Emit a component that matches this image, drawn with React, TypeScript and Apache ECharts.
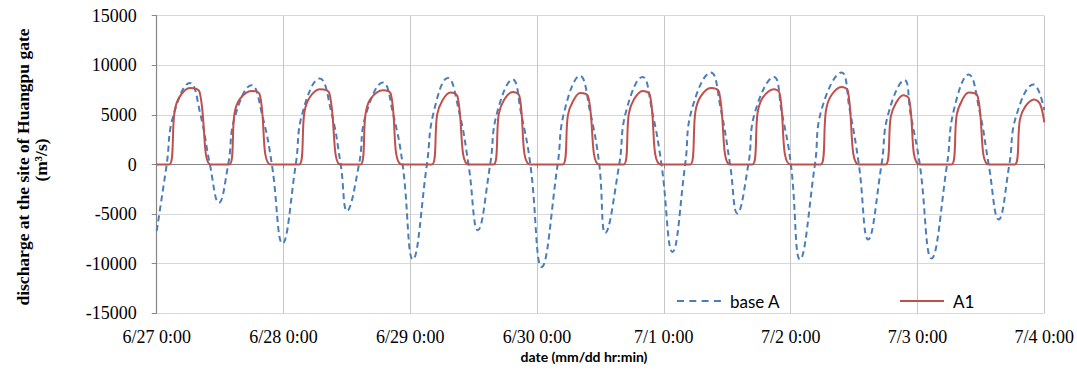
import React, { useEffect, useRef } from "react";
import * as echarts from "echarts";

// x axis in hours since 6/27 0:00
const tickLabels = [
  "6/27 0:00",
  "6/28 0:00",
  "6/29 0:00",
  "6/30 0:00",
  "7/1 0:00",
  "7/2 0:00",
  "7/3 0:00",
  "7/4 0:00",
];

const baseAHours = [
  0, 1.89, 3.16, 6.29, 8.32, 10.07, 11.77,
  13.53, 14.8, 17.95, 20.05, 21.8, 23.81,
  26.32, 27.59, 30.86, 33.08, 34.83, 36.02,
  38.29, 39.56, 42.82, 44.8, 46.55, 48.49,
  51.14, 52.41, 55.11, 57.27, 59.02, 60.78,
  63.12, 64.39, 67.39, 68.98, 70.73, 72.87,
  75.89, 77.16, 80.13, 82.02, 83.77, 84.91,
  87.55, 88.82, 91.96, 93.8, 95.55, 97.63,
  100.03, 101.3, 104.88, 106.78, 108.53, 109.91,
  111.99, 113.26, 116.84, 118.3, 120.05, 121.76,
  124.59, 125.86, 129.64, 131.16, 132.91, 134.67,
  137.2, 138.47, 141.55, 142.69, 144.44, 146.65,
  149.6, 150.87, 153.7, 155.73, 157.48, 159.37,
  161.39, 162.66, 165.98, 168,
];
const baseAValues = [
  -6700, 0, 4940, 8226, 4940, 0, -3870,
  0, 4800, 7994, 4800, 0, -7964,
  0, 5200, 8670, 5200, 0, -4680,
  0, 4960, 8266, 4960, 0, -9577,
  0, 5240, 8730, 5240, 0, -6620,
  0, 5140, 8568, 5140, 0, -10323,
  0, 5360, 8931, 5360, 0, -6895,
  0, 5300, 8831, 5300, 0, -8810,
  0, 5560, 9274, 5560, 0, -4940,
  0, 5300, 8831, 5300, 0, -9577,
  0, 5560, 9274, 5560, 0, -7560,
  0, 5100, 8498, 5100, 0, -9476,
  0, 5440, 9073, 5440, 0, -5544,
  0, 4840, 8065, 5500,
];

const a1Hours = [
  0, 2.38, 3.38, 4.38, 6.29, 8.1, 10.2,
  13.72, 14.72, 15.72, 17.95, 19.5, 21.6,
  26.95, 27.95, 28.95, 30.86, 32.67, 34.77,
  38.55, 39.55, 40.55, 42.82, 44.31, 46.41,
  52.08, 53.08, 54.08, 55.6, 56.92, 59.02,
  63.74, 64.74, 65.74, 67.39, 68.63, 70.73,
  76.84, 77.84, 78.84, 80.13, 81.67, 83.77,
  88.37, 89.37, 90.37, 91.96, 93.33, 95.43,
  100.97, 101.97, 102.97, 104.88, 106.43, 108.53,
  112.75, 113.75, 114.75, 116.84, 117.9, 120.0,
  125.67, 126.67, 127.67, 129.64, 130.81, 132.91,
  137.95, 138.95, 139.95, 141.3, 142.4, 144.44,
  150.43, 151.43, 152.43, 153.7, 155.38, 157.48,
  162.39, 163.39, 164.39, 166.07, 167.2, 168,
];
const a1Values = [
  0, 0, 5330, 6870, 7722, 7340, 0,
  0, 5120, 6600, 7420, 7050, 0,
  0, 5240, 6760, 7590, 7210, 0,
  0, 5170, 6670, 7490, 7120, 0,
  0, 5010, 6460, 7258, 6900, 0,
  0, 5050, 6510, 7319, 6950, 0,
  0, 4980, 6420, 7218, 6860, 0,
  0, 5120, 6600, 7420, 7050, 0,
  0, 5330, 6870, 7722, 7340, 0,
  0, 5240, 6760, 7590, 7210, 0,
  0, 5400, 6960, 7823, 7430, 0,
  0, 4820, 6220, 6986, 6640, 0,
  0, 5010, 6460, 7258, 6900, 0,
  0, 4520, 5830, 6550, 6100, 4250,
];

const BLUE = "#4a7ebb";
const RED = "#c0504d";
const SERIF = '"Liberation Serif", "Times New Roman", serif';

export default function App() {
  const ref = useRef<HTMLDivElement>(null);

  useEffect(() => {
    if (!ref.current) return;
    const chart = echarts.init(ref.current, null, { renderer: "svg" });
    const zip = (h: number[], v: number[]) => h.map((x, i) => [x, v[i]]);

    const legendText = {
      fontFamily: "Lato",
      fontSize: 17,
      color: "#000",
      padding: [0, 0, 0, 4],
    };

    chart.setOption({
      animation: false,
      backgroundColor: "#fff",
      grid: { left: 156.7, right: 31.3, top: 15.7, bottom: 60.7, containLabel: false },
      xAxis: [
        {
          type: "value",
          min: 0,
          max: 168,
          interval: 24,
          position: "bottom",
          axisLine: { show: false, onZero: false },
          axisTick: { show: false },
          axisLabel: {
            formatter: (v: number) => tickLabels[Math.round(v / 24)] ?? "",
            fontFamily: SERIF,
            fontSize: 18,
            color: "#000",
            margin: 15,
            showMinLabel: true,
            showMaxLabel: true,
          },
          splitLine: { show: true, lineStyle: { color: "#c6c6c6", width: 1 } },
        },
        {
          type: "value",
          min: 0,
          max: 168,
          interval: 24,
          position: "top",
          axisLine: { show: true, onZero: true, lineStyle: { color: "#868686", width: 1.2 } },
          axisTick: { show: true, inside: true, length: 4, lineStyle: { color: "#868686" } },
          axisLabel: { show: false },
          splitLine: { show: false },
        },
      ],
      yAxis: {
        type: "value",
        min: -15000,
        max: 15000,
        interval: 5000,
        axisLine: { show: true, onZero: false, lineStyle: { color: "#868686", width: 1.2 } },
        axisTick: { show: true, length: 5, lineStyle: { color: "#868686" } },
        axisLabel: {
          formatter: (v: number) => String(v),
          fontFamily: SERIF,
          fontSize: 18,
          color: "#000",
          margin: 20,
          showMinLabel: true,
          showMaxLabel: true,
        },
        splitLine: { show: true, lineStyle: { color: "#d9d9d9", width: 1 } },
      },
      legend: [
        {
          data: [
            {
              name: "base A",
              icon: "path://M0 0H7V2H0Z M12.3 0H19.3V2H12.3Z M24.6 0H31.6V2H24.6Z M36.9 0H43.9V2H36.9Z",
            },
          ],
          left: 677,
          top: 292.5,
          padding: 0,
          itemWidth: 44,
          itemHeight: 2,
          textStyle: legendText,
        },
        {
          data: [{ name: "A1", icon: "path://M0 0H44V2H0Z" }],
          left: 900,
          top: 292.5,
          padding: 0,
          itemWidth: 44,
          itemHeight: 2,
          textStyle: legendText,
        },
      ],
      series: [
        {
          name: "base A",
          type: "line",
          xAxisIndex: 0,
          data: zip(baseAHours, baseAValues),
          smooth: 0.45,
          symbol: "none",
          lineStyle: { color: BLUE, width: 2, type: [6, 4] },
          itemStyle: { color: BLUE },
          z: 3,
        },
        {
          name: "A1",
          type: "line",
          xAxisIndex: 0,
          data: zip(a1Hours, a1Values),
          smooth: 0.35,
          symbol: "none",
          lineStyle: { color: RED, width: 2 },
          itemStyle: { color: RED },
          z: 4,
        },
      ],
      graphic: [
        {
          type: "text",
          x: 23,
          y: 167,
          rotation: Math.PI / 2,
          style: {
            text: "discharge at the site of Huangpu gate",
            font: 'bold 17.5px "Liberation Serif"',
            fill: "#000",
            align: "center",
            verticalAlign: "middle",
            textAlign: "center",
            textVerticalAlign: "middle",
          },
        },
        {
          type: "text",
          x: 41,
          y: 160,
          rotation: Math.PI / 2,
          style: {
            text: "(m³/s)",
            font: 'bold 17.5px "Liberation Serif"',
            fill: "#000",
            align: "center",
            verticalAlign: "middle",
            textAlign: "center",
            textVerticalAlign: "middle",
          },
        },
        {
          type: "text",
          x: 584,
          y: 356,
          style: {
            text: "date (mm/dd hr:min)",
            font: "bold 14px Lato",
            fill: "#000",
            align: "center",
            verticalAlign: "middle",
            textAlign: "center",
            textVerticalAlign: "middle",
          },
        },
      ],
    });

    return () => chart.dispose();
  }, []);

  return (
    <div
      ref={ref}
      style={{ position: "fixed", left: 0, top: 0, width: 1077, height: 374, background: "#fff" }}
    />
  );
}
